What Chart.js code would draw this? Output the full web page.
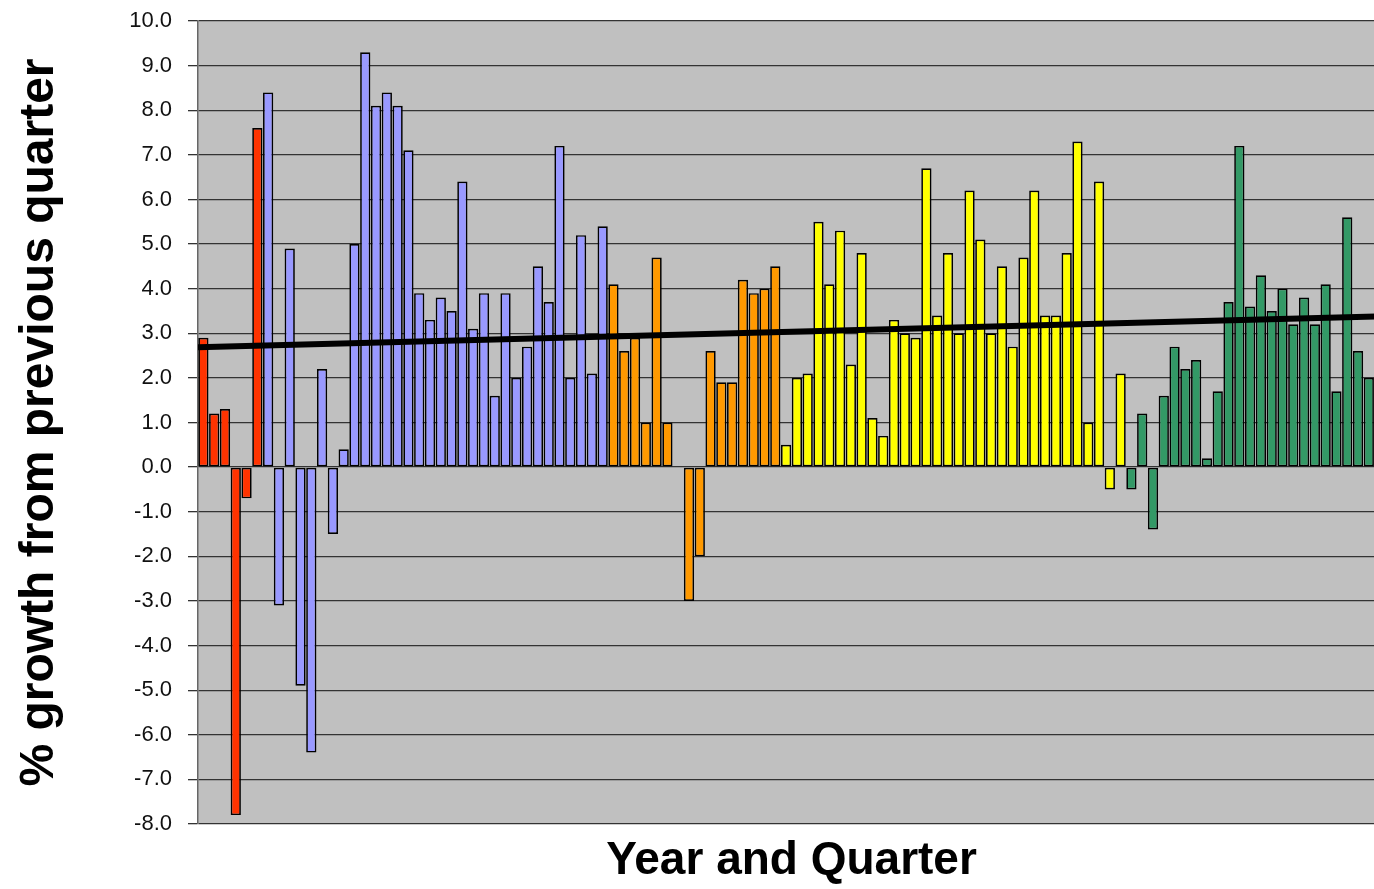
<!DOCTYPE html>
<html>
<head>
<meta charset="utf-8">
<script src="https://cdn.jsdelivr.net/npm/chart.js@4/dist/chart.umd.min.js"></script>
<style>
  html, body { margin: 0; padding: 0; background: #fff; overflow: hidden; }
  #wrap { width: 1385px; height: 889px; position: relative; }
</style>
</head>
<body>
<div id="wrap"><canvas id="growth"></canvas></div>
<script>
// quarterly % growth, grouped by the colour band they are drawn in
const redQuarters    = [2.9, 1.2, 1.3, -7.8, -0.7, 7.6];
const blueQuarters   = [8.4, -3.1, 4.9, -4.9, -6.4, 2.2, -1.5, 0.4, 5.0, 9.3, 8.1, 8.4, 8.1, 7.1, 3.9, 3.3,
                        3.8, 3.5, 6.4, 3.1, 3.9, 1.6, 3.9, 2.0, 2.7, 4.5, 3.7, 7.2, 2.0, 5.2, 2.1, 5.4];
const orangeQuarters = [4.1, 2.6, 2.9, 1.0, 4.7, 1.0, 0.0, -3.0, -2.0, 2.6, 1.9, 1.9, 4.2, 3.9, 4.0, 4.5];
const yellowQuarters = [0.5, 2.0, 2.1, 5.5, 4.1, 5.3, 2.3, 4.8, 1.1, 0.7, 3.3, 3.0, 2.9, 6.7, 3.4, 4.8,
                        3.0, 6.2, 5.1, 3.0, 4.5, 2.7, 4.7, 6.2, 3.4, 3.4, 4.8, 7.3, 1.0, 6.4, -0.5, 2.1];
const greenQuarters  = [-0.5, 1.2, -1.4, 1.6, 2.7, 2.2, 2.4, 0.2, 1.7, 3.7, 7.2, 3.6, 4.3, 3.5, 4.0, 3.2,
                        3.8, 3.2, 4.1, 1.7, 5.6, 2.6, 2.0, 2.1];

const groupColors = ['#FF3300', '#9999FF', '#FF9900', '#FFFF00', '#339966'];
const yTicks = { min: -8, max: 10, step: 1 };

const groups = [redQuarters, blueQuarters, orangeQuarters, yellowQuarters, greenQuarters];
const values = [];
const colors = [];
groups.forEach((g, gi) => g.forEach(v => { values.push(v); colors.push(groupColors[gi]); }));
const labels = values.map((v, i) => 'Q' + (i + 1));

// least squares trend over all quarters
function trendFit(ys) {
  const n = ys.length;
  let sx = 0, sy = 0, sxx = 0, sxy = 0;
  ys.forEach((y, x) => { sx += x; sy += y; sxx += x * x; sxy += x * y; });
  const b = (n * sxy - sx * sy) / (n * sxx - sx * sx);
  const a = (sy - b * sx) / n;
  return { a, b };
}
const fit = trendFit(values);

const plotBg = {
  id: 'plotBg',
  beforeDraw(chart) {
    const { ctx, chartArea: a } = chart;
    ctx.save();
    ctx.fillStyle = '#C0C0C0';
    ctx.fillRect(a.left, a.top, a.right - a.left, a.bottom - a.top);
    ctx.restore();
  }
};

const trendLine = {
  id: 'trendLine',
  afterDatasetsDraw(chart) {
    const { ctx, chartArea: a, scales: { x, y } } = chart;
    const step = x.getPixelForValue(1) - x.getPixelForValue(0);
    const x0 = -0.5, x1 = values.length - 0.5;
    ctx.save();
    ctx.beginPath();
    ctx.rect(a.left, a.top, a.right - a.left, a.bottom - a.top);
    ctx.clip();
    ctx.strokeStyle = '#000';
    ctx.lineWidth = 6;
    ctx.beginPath();
    ctx.moveTo(x.getPixelForValue(0) - step / 2, y.getPixelForValue(fit.a + fit.b * x0));
    ctx.lineTo(x.getPixelForValue(values.length - 1) + step / 2, y.getPixelForValue(fit.a + fit.b * x1));
    ctx.stroke();
    ctx.restore();
  }
};

new Chart(document.getElementById('growth'), {
  type: 'bar',
  data: {
    labels: labels,
    datasets: [{
      data: values,
      backgroundColor: colors,
      borderColor: '#000',
      borderWidth: 1.7,
      borderSkipped: false,
      barPercentage: 0.95,
      categoryPercentage: 1
    }]
  },
  options: {
    responsive: true, maintainAspectRatio: false,
    animation: false,
    layout: { padding: { top: 21, left: 0, right: 0, bottom: 0 } },
    plugins: { legend: { display: false }, tooltip: { enabled: false } },
    scales: {
      x: {
        grid: { display: false },
        border: { display: false },
        ticks: { display: false },
        title: { display: true, text: 'Year and Quarter', color: '#000',
                 font: { family: 'Liberation Sans, Arial, sans-serif', size: 46, weight: 'bold' },
                 padding: { top: 0, bottom: 0 } },
        afterFit(s) { s.height = 65; }
      },
      y: {
        min: yTicks.min, max: yTicks.max,
        ticks: { stepSize: yTicks.step, padding: 16, color: '#111',
                 font: { family: 'Liberation Sans, Arial, sans-serif', size: 22 },
                 callback: v => v.toFixed(1) },
        grid: { color: '#333', lineWidth: 1.3, tickLength: 10 },
        border: { color: '#666', width: 1.5 },
        title: { display: true, text: '% growth from previous quarter', color: '#000',
                 font: { family: 'Liberation Sans, Arial, sans-serif', size: 48, weight: 'bold' },
                 padding: { top: 11, bottom: 0 } },
        afterFit(s) { s.width = 198; s.paddingTop = 0; s.paddingBottom = 0; }
      }
    }
  },
  plugins: [plotBg, trendLine]
});
</script>
</body>
</html>
